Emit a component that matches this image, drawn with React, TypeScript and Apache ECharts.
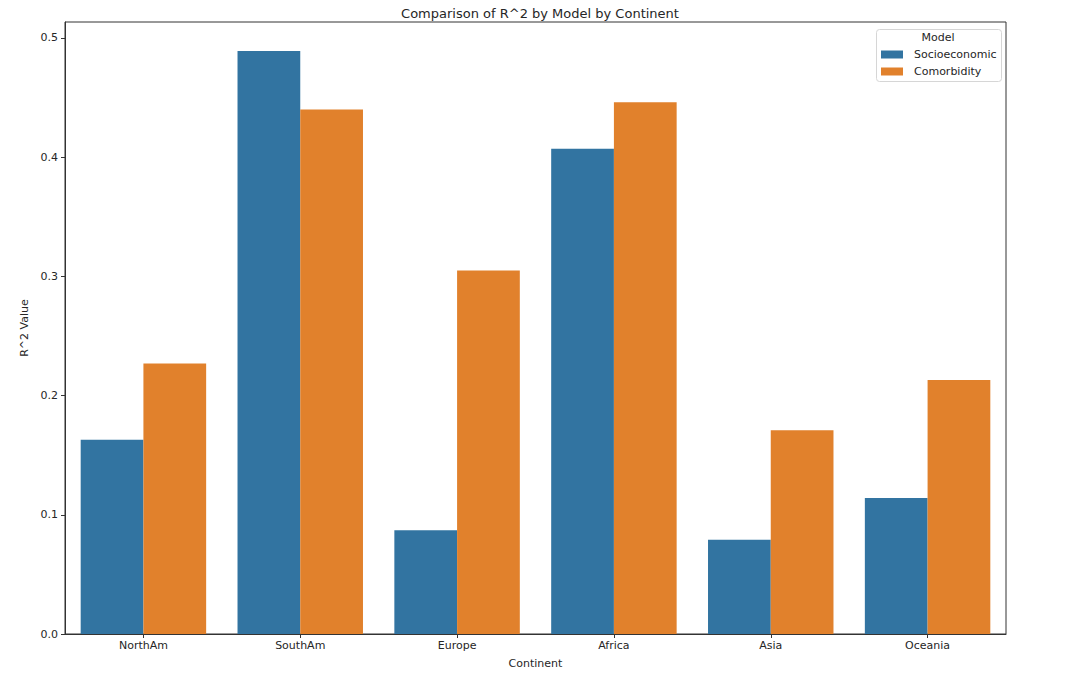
import React, { useEffect, useRef } from "react";
import * as echarts from "echarts";

const continents = ["NorthAm", "SouthAm", "Europe", "Africa", "Asia", "Oceania"];
const socioeconomic = [0.163, 0.489, 0.087, 0.407, 0.079, 0.114];
const comorbidity = [0.227, 0.44, 0.305, 0.446, 0.171, 0.213];
const yTicks = [0, 0.1, 0.2, 0.3, 0.4, 0.5];

const FONT = "DejaVu Sans";
const TXT = "#262626";

export default function App() {
  const ref = useRef<HTMLDivElement>(null);
  useEffect(() => {
    const chart = echarts.init(ref.current!, undefined, { renderer: "svg" });
    chart.setOption({
      animation: false,
      backgroundColor: "#ffffff",
      textStyle: { fontFamily: FONT },
      title: {
        text: "Comparison of R^2 by Model by Continent",
        left: 535,
        textAlign: "center",
        top: 2,
        textStyle: { fontFamily: FONT, fontSize: 13, fontWeight: "normal", color: TXT },
      },
      grid: {
        left: 65,
        right: 67,
        top: 22,
        bottom: 42,
        show: true,
        borderColor: "#333333",
        borderWidth: 1,
        backgroundColor: "transparent",
      },
      legend: {
        orient: "vertical",
        left: 876,
        top: 44,
        itemWidth: 22,
        itemHeight: 8,
        itemGap: 6,
        icon: "rect",
        data: ["Socioeconomic", "Comorbidity"],
        textStyle: { fontFamily: FONT, fontSize: 11, color: TXT, padding: [0, 0, 0, 6] },
      },
      graphic: [
        {
          type: "rect",
          shape: { x: 876.5, y: 29.5, width: 125, height: 52, r: 3 },
          style: { fill: "rgba(255,255,255,0.8)", stroke: "#d6d6d6", lineWidth: 1 },
          z: -1,
        },
        {
          type: "text",
          x: 938,
          y: 32,
          style: { text: "Model", fontFamily: FONT, fontSize: 11, fill: TXT, textAlign: "center" },
        },
      ],
      xAxis: {
        type: "category",
        data: continents,
        name: "Continent",
        nameLocation: "middle",
        nameGap: 24,
        nameTextStyle: { fontFamily: FONT, fontSize: 11, color: TXT },
        axisLine: { show: true, lineStyle: { color: "#333333" } },
        axisTick: { show: true, alignWithLabel: true, length: 4, inside: false, lineStyle: { color: "#333333" } },
        axisLabel: { fontFamily: FONT, fontSize: 11, color: TXT, margin: 6 },
      },
      yAxis: {
        type: "value",
        min: 0,
        max: 0.5134,
        interval: 0.1,
        name: "R^2 Value",
        nameLocation: "middle",
        nameGap: 32,
        nameTextStyle: { fontFamily: FONT, fontSize: 11, color: TXT },
        axisLine: { show: true, lineStyle: { color: "#333333" } },
        axisTick: { show: true, length: 4, lineStyle: { color: "#333333" }, customValues: yTicks },
        splitLine: { show: false },
        axisLabel: {
          fontFamily: FONT,
          fontSize: 11,
          color: TXT,
          margin: 7,
          customValues: yTicks,
          formatter: (v: number) => v.toFixed(1),
        },
      },
      series: [
        {
          name: "Socioeconomic",
          type: "bar",
          data: socioeconomic,
          itemStyle: { color: "#3274a1" },
          barGap: "0%",
          barCategoryGap: "20%",
        },
        {
          name: "Comorbidity",
          type: "bar",
          data: comorbidity,
          itemStyle: { color: "#e1812c" },
          barGap: "0%",
          barCategoryGap: "20%",
        },
      ],
    });
    return () => chart.dispose();
  }, []);
  return (
    <div
      ref={ref}
      style={{ position: "fixed", left: 0, top: 0, width: 1073, height: 676 }}
    />
  );
}
